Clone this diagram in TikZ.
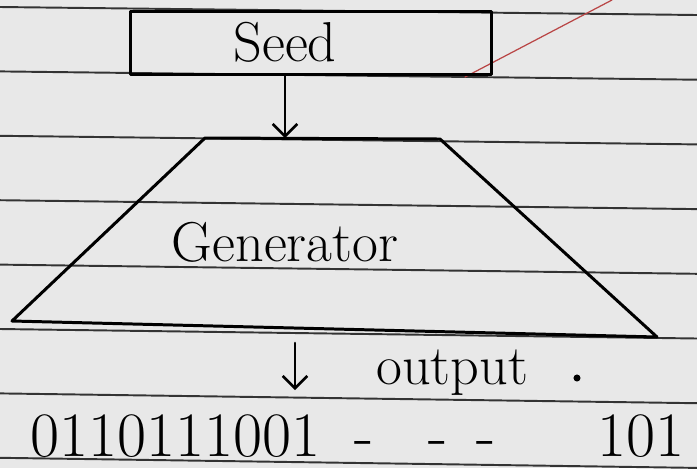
\documentclass[tikz,border=0pt]{standalone}
\usetikzlibrary{arrows.meta}
\begin{document}
\begin{tikzpicture}[x=0.02cm, y=-0.02cm, line join=round, line cap=round, >={Straight Barb[length=7pt,width=14pt]}, font=\fontsize{32}{36}\selectfont]
	\def \W{697}
	\def \H{468}
	\fill[gray!18] (0,0) rectangle (\W,\H);
	\useasboundingbox (0,0) rectangle (\W,\H);
	% ruled lines of the page
	\foreach \k in {0,...,7}
		\draw[gray!40!black, line width=1.1pt] (0,{7+64.4*\k}) -- (\W,{15+64.7*\k});
	\draw[red!45!gray, line width=0.7pt] (465,77) -- (612,0);
	% seed box
	\node[draw, line width=1.7pt, minimum width=7.24cm, minimum height=1.26cm] (seed) at (311,43) {};
	\node (seedtxt) at (285,42) {Seed};
	% generator
	\coordinate (bl) at (12,321);
	\coordinate (tl) at (205,138);
	\coordinate (tr) at (440,139);
	\coordinate (br) at (657,337);
	\draw[line width=1.7pt] (bl)--(tl)--(tr)--(br)--cycle;
	\node (gen) at (285,242) {Generator};
	\draw[->, line width=1.5pt] (seedtxt |- seed.south) -- (seedtxt |- tl);
	% output
	\coordinate (outtop) at (295,343);
	\coordinate (outbot) at (295,390);
	\draw[->, line width=1.5pt] (outtop) -- (outbot);
	\node[anchor=base west] (outlbl) at (370,384) {output};
	\fill (577,378) circle(2pt);
	\node[anchor=base west, inner sep=0pt, font=\fontsize{36}{40}\selectfont] (bits) at (30,456) {0110111001\hspace{0.68cm}-\hspace{1.1cm}-\hspace{0.58cm}-\hspace{2.04cm}101};
\end{tikzpicture}
\end{document}
